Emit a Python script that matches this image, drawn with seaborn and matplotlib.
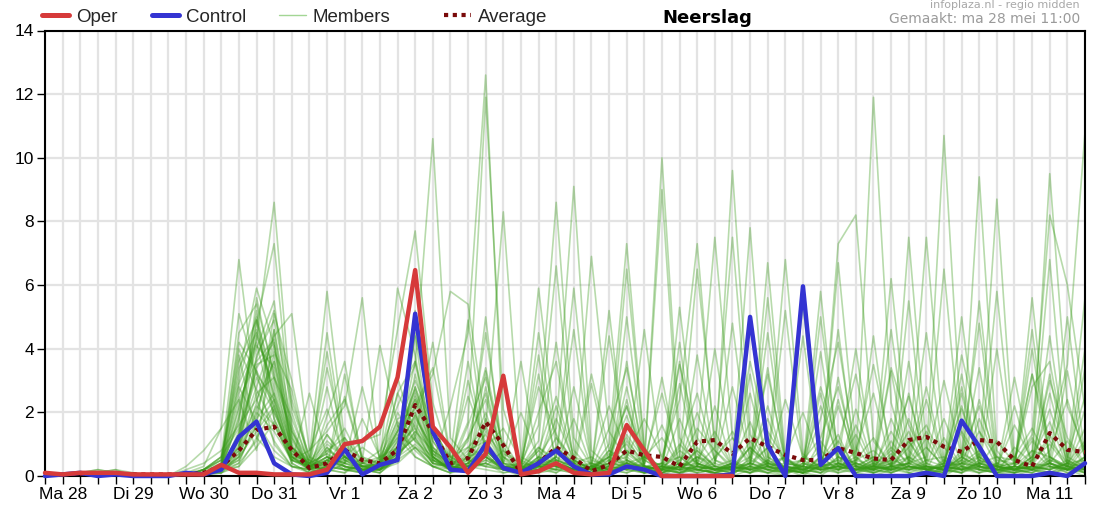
import numpy as np
import pandas as pd
import matplotlib
matplotlib.use("Agg")
import matplotlib.pyplot as plt
import seaborn as sns
from matplotlib.lines import Line2D

# ---------------- data ----------------
# time axis: hours since Ma 28 00:00, every 6 hours
hours = list(range(6, 361, 6))  # 60 points
day_labels = ["Ma 28", "Di 29", "Wo 30", "Do 31", "Vr 1", "Za 2", "Zo 3",
              "Ma 4", "Di 5", "Wo 6", "Do 7", "Vr 8", "Za 9", "Zo 10", "Ma 11"]
y_ticks = [0, 2, 4, 6, 8, 10, 12, 14]
legend_labels = ["Oper", "Control", "Members", "Average"]

oper = [0.1, 0.05, 0.1, 0.1, 0.1, 0.05, 0.05, 0.05, 0.05, 0.05, 0.35,
        0.1, 0.1, 0.05, 0.05, 0.05, 0.2, 1.0, 1.1, 1.55, 3.1, 6.47, 1.55,
        0.9, 0.1, 0.7, 3.15, 0.05, 0.15, 0.4, 0.1, 0.05, 0.1, 1.6, 0.8,
        0.0, 0.0, 0.0, 0.0, 0.0]

control = [0.0, 0.05, 0.1, 0.0, 0.05, 0.0, 0.0, 0.0, 0.1, 0.05, 0.2,
           1.23, 1.71, 0.4, 0.05, 0.0, 0.1, 0.84, 0.05, 0.35, 0.5, 5.1, 1.4,
           0.2, 0.15, 1.0, 0.25, 0.1, 0.4, 0.8, 0.3, 0.05, 0.05, 0.3, 0.2,
           0.0, 0.0, 0.0, 0.0, 0.05, 5.0, 0.97, 0.0, 5.96, 0.35, 0.88, 0.0,
           0.0, 0.0, 0.0, 0.1, 0.0, 1.74, 0.92, 0.0, 0.0, 0.0, 0.1, 0.0, 0.4]

average = [0.05, 0.05, 0.05, 0.05, 0.05, 0.05, 0.05, 0.05, 0.05, 0.1, 0.3,
           0.8, 1.45, 1.55, 0.82, 0.25, 0.4, 0.82, 0.5, 0.4, 0.82, 2.23, 1.39,
           0.4, 0.56, 1.7, 0.97, 0.1, 0.4, 0.9, 0.56, 0.15, 0.35, 0.8, 0.65,
           0.6, 0.3, 1.08, 1.13, 0.7, 1.19, 0.92, 0.66, 0.5, 0.5, 0.88, 0.72,
           0.55, 0.5, 1.13, 1.23, 0.92, 0.76, 1.13, 1.08, 0.5, 0.3, 1.35, 0.82, 0.75]

members = [
 [0,0,0,0.1,0.1,0,0,0,0,0.1,0.3, 2.1,4.3,8.6,2.0, 0.3,0.8,1.2,0.4, 0.2,0.9,2.5,1.1, 0.3,0.2,1.4,0.6, 0.1,0.4,1.8,0.5, 0.2,0.6,2.2,0.3, 0.1,0.4,1.5,0.8, 0.2,0.9,0.3,0.1, 0.5,1.2,2.8,0.6, 0.1,0.3,0.9,1.6, 0.4,2.1,0.6,0.2, 0.1,0.5,3.0,1.2, 0.4],
 [0,0,0,0.1,0.2,0.1,0,0,0.1,0.3,1.5, 6.8,2.4,1.1,0.3, 0.1,0.5,0.9,0.2, 0.4,1.6,0.8,0.3, 0.1,0.6,0.9,0.2, 0,0.3,0.6,0.1, 0,0.2,1.1,0.4, 10.0,1.2,0.3,0.1, 0,0.6,1.8,0.3, 0.1,0,0.4,1.3, 0.2,0.7,0.1,0, 0.3,1.4,0.5,0.1, 0,0.2,0.8,2.4, 0.6],
 [0,0,0,0.1,0.1,0,0,0,0,0.2,0.6, 3.2,5.9,4.1,0.9, 0.2,1.3,0.6,0.4, 0.8,2.2,3.5,10.6, 1.2,0.5,0.3,0.8, 0.1,0.2,0.4,0.2, 0.1,0.8,0.5,0.2, 0,0.3,0.1,0.6, 1.2,0.3,0.1,0, 0.4,2.2,0.6,0.1, 0,0.2,1.1,0.3, 0.2,0.1,1.8,0.4, 0.6,0.2,0,0.3, 1.5],
 [0,0,0,0.1,0.1,0.1,0,0,0,0.1,0.2, 1.8,4.8,7.3,1.5, 0.1,0.3,0.2,0.1, 0.3,0.7,1.2,0.4, 2.2,4.5,12.6,1.1, 0.2,0.8,0.3,0.1, 0,0.1,0.5,0.3, 0.2,1.8,0.4,0, 0.1,0.3,0.9,0.2, 0,0.4,0.2,0.8, 2.6,0.3,0.1,0, 0.2,0.6,0.3,1.1, 0.4,3.2,0.6,0.2, 0],
 [0,0,0.1,0.2,0.1,0,0,0,0,0.1,0.4, 0.9,3.7,5.2,2.4, 0.6,5.8,1.1,0.3, 0.2,0.5,0.9,0.3, 0.4,1.7,11.9,2.1, 0.3,0.2,0.1,0.4, 0.6,0.2,0.1,0.3, 0.1,0,0.5,1.4, 0.3,0.1,0.4,0.6, 0.1,1.1,0.3,0.2, 0.5,0.1,0.3,1.2, 0.1,0.4,0.2,0.1, 0.9,0.4,1.3,0.2, 3.4],
 [0,0,0,0.1,0,0,0,0,0.1,0.2,0.3, 1.2,2.8,4.4,5.1, 0.8,1.4,2.2,5.6, 0.3,1.1,2.8,1.4, 0.6,0.9,1.5,8.3, 0.6,0.3,0.9,0.4, 0.1,0.5,0.2,0.1, 0.3,0.6,0.2,0.1, 0,0.2,1.4,0.5, 0.2,0.1,0.6,0.3, 0.1,1.8,0.5,0.2, 1.2,0.3,0.1,0.4, 0.2,0.1,0.4,1.1, 0.3],
 [0.1,0,0,0,0.1,0,0,0,0,0,0.2, 0.6,2.1,3.6,1.2, 0.2,0.4,0.6,1.1, 1.3,4.6,7.7,2.3, 0.5,0.2,0.6,0.3, 0.4,1.6,8.6,1.2, 0.3,0.1,0.4,0.6, 1.2,0.3,0.1,0.2, 0.1,0.4,0.2,0, 0.6,0.3,0.1,2.1, 0.3,0.5,1.4,0.2, 0,0.3,0.7,0.2, 0.1,0.8,0.3,0.2, 0.5],
 [0,0,0,0.1,0.1,0,0,0,0,0.1,0.1, 0.4,1.8,2.6,0.9, 0.5,0.2,0.1,0.6, 0.4,1.4,2.1,3.2, 5.8,5.4,1.6,0.4, 0.2,0.6,1.5,9.1, 0.8,0.3,0.2,0.1, 0.4,0.1,0.9,0.3, 0.2,1.1,0.3,0.1, 0.3,0.1,0.2,0.4, 0.2,0.6,0.2,0.1, 0.5,0.2,2.4,0.3, 0.1,0.2,0.4,0.2, 0.9],
 [0,0,0,0,0.1,0,0,0,0,0.1,0.2, 0.3,1.2,2.1,0.6, 0.2,0.9,0.4,0.3, 0.2,0.6,1.8,0.9, 0.3,0.8,1.1,0.2, 0.4,5.9,1.2,0.3, 6.9,1.4,0.5,0.2, 0.3,0.1,0.2,0.1, 0.2,0.1,0.5,0.2, 0.1,0.6,0.2,0.4, 11.9,2.3,0.4,0.1, 0.2,0.1,0.5,0.3, 0.4,1.2,0.3,0.1, 0.2],
 [0,0,0,0.1,0.1,0,0,0,0,0.1,0.2, 0.8,2.6,3.1,1.8, 0.4,0.7,0.3,0.2, 0.1,0.6,1.3,0.5, 0.2,1.2,2.4,0.6, 0.3,1.1,6.6,0.8, 0.2,1.0,7.3,0.9, 0.1,0.3,0.6,0.2, 0.4,0.2,0.1,0.3, 0.2,0.5,1.3,0.1, 0.3,0.2,0.4,0.6, 10.7,1.3,0.2,0.1, 0.2,0.6,1.7,0.3, 0.1],
 [0,0,0,0,0.1,0.1,0,0,0,0.2,0.6, 1.5,3.3,2.2,0.4, 0.1,0.3,0.8,0.4, 0.6,1.7,1.1,0.6, 0.2,0.4,0.9,1.5, 0.5,0.2,0.6,5.9, 0.5,0.3,0.2,0.4, 9.0,0.6,0.2,0.1, 0.3,0.9,0.4,0.2, 0.1,0.3,0.2,0.5, 0.8,0.3,1.1,0.2, 0.3,0.5,9.4,0.8, 0.1,0.3,0.2,0.4, 1.1],
 [0,0,0,0.1,0.1,0,0,0,0.1,0.1,0.3, 2.6,4.1,3.4,1.1, 0.3,0.5,0.2,0.1, 0.2,0.8,1.6,0.7, 0.4,0.6,0.8,0.3, 0.1,0.3,0.2,0.1, 0.3,0.4,0.6,1.8, 0.6,2.4,7.3,0.8, 0.3,0.1,0.2,0.6, 0.2,0.4,0.1,0.3, 0.6,0.2,0.4,1.4, 0.3,0.2,0.6,8.7, 0.5,0.2,0.1,0.3, 0.2],
 [0,0,0,0.1,0,0,0,0,0,0.1,0.2, 0.5,1.6,2.4,0.7, 0.2,0.1,0.4,0.9, 0.5,1.2,0.6,0.3, 0.1,0.3,0.6,0.2, 0.1,0.4,0.3,0.2, 0.4,0.2,0.8,0.3, 0.2,0.5,1.1,7.5, 1.2,0.4,0.2,0.1, 0.3,0.2,0.6,0.4, 0.2,1.1,0.3,0.2, 0.4,0.2,0.1,0.3, 0.2,0.6,9.5,2.2, 0.8],
 [0,0,0,0.1,0.2,0,0,0,0,0.1,0.1, 0.7,2.3,4.6,1.6, 0.2,0.6,0.2,0.3, 0.4,0.9,1.9,0.8, 0.2,0.5,1.1,0.4, 0.1,0.2,0.5,0.3, 0.2,0.7,0.4,0.1, 0.1,0.3,0.2,0.4, 9.6,1.3,0.4,0.2, 0.1,0.3,0.5,0.2, 0.4,0.1,0.6,0.3, 0.2,0.8,0.3,0.1, 0.4,1.3,8.2,6.0, 2.1],
 [0,0,0,0,0.1,0,0,0,0,0.1,0.3, 1.1,4.4,2.8,0.8, 0.4,1.1,0.6,0.2, 0.3,1.4,2.7,1.2, 0.6,0.3,0.4,0.2, 0.2,0.5,0.9,0.4, 0.3,0.1,1.3,0.5, 0.2,0.1,0.3,0.9, 7.5,0.8,0.3,0.1, 0.2,0.4,0.9,0.3, 0.1,0.3,0.2,0.5, 0.6,0.2,0.4,0.3, 0.2,0.3,1.2,3.5, 10.8],
 [0,0,0,0.1,0.1,0,0,0,0,0.2,0.5, 3.6,4.9,1.8,0.5, 0.2,0.8,0.5,0.3, 0.2,0.7,1.4,0.5, 0.3,0.9,0.6,0.2, 0.1,0.4,0.3,0.2, 0.3,0.5,0.4,0.2, 0.1,0.4,0.2,0.3, 0.5,7.8,0.6,0.2, 0.4,0.3,7.3,8.2, 1.1,0.3,0.2,0.4, 0.1,0.5,0.2,0.3, 0.4,0.2,0.6,0.3, 0.1],
 [0,0,0,0.1,0,0,0,0,0,0.1,0.2, 0.4,1.1,3.9,2.7, 0.3,0.2,0.1,0.4, 0.3,0.9,2.2,0.6, 0.2,1.6,3.1,0.9, 0.2,0.6,0.4,0.2, 0.1,0.3,0.5,0.2, 0.3,0.2,0.6,0.4, 0.2,0.5,6.7,0.6, 0.1,0.3,0.4,0.2, 0.5,0.2,7.5,0.9, 0.3,0.2,0.4,0.6, 0.2,0.4,0.3,0.2, 0.6],
 [0,0,0,0.1,0.1,0,0,0,0,0,0.1, 0.6,2.0,1.4,0.5, 0.8,2.1,0.6,0.2, 0.1,0.6,1.0,0.4, 0.3,0.4,0.8,0.3, 0.2,0.3,0.1,0.5, 0.2,0.6,0.3,0.1, 0.2,0.8,0.4,0.2, 0.3,0.2,0.4,6.8, 0.7,0.2,0.3,0.1, 0.2,0.4,0.6,7.5, 0.9,0.3,0.2,0.4, 0.2,0.1,0.5,0.3, 0.2],
 [0,0,0,0.1,0.1,0,0,0,0,0.1,0.3, 4.5,5.4,3.2,0.8, 0.2,0.4,1.2,0.5, 0.4,5.9,3.8,0.6, 0.2,0.5,0.3,0.2, 0.1,0.2,0.6,0.3, 0.2,0.4,6.5,0.8, 0.1,0.3,0.2,0.1, 0.4,5.0,0.6,0.3, 0.2,0.1,0.4,0.3, 0.3,6.2,0.8,0.2, 0.1,0.4,0.3,0.2, 0.3,0.2,0.4,0.1, 0.3],
 [0,0,0,0.1,0.1,0,0,0,0,0.1,0.2, 2.2,4.0,5.5,1.2, 0.3,0.6,0.4,0.2, 0.2,0.8,4.5,1.6, 0.4,0.3,0.6,0.3, 0.2,4.5,0.9,0.3, 0.1,0.3,5.0,0.6, 0.2,5.3,0.7,0.2, 0.1,0.3,4.5,0.4, 0.3,0.2,6.7,0.9, 0.2,0.5,0.3,0.1, 0.4,5.0,0.6,0.3, 0.2,0.6,6.8,0.5, 0.2],
 [0,0,0,0,0.1,0,0,0,0,0.1,0.4, 3.4,4.5,2.6,0.7, 0.4,1.3,0.5,0.2, 0.3,1.1,2.2,3.4, 0.6,4.9,0.8,0.3, 0.2,0.3,0.4,0.2, 0.3,0.2,0.4,0.3, 0.4,0.6,6.5,1.1, 0.3,0.2,0.5,0.2, 0.1,5.0,0.6,0.4, 0.2,0.3,5.5,0.4, 6.5,0.6,0.2,0.1, 0.3,4.0,0.6,0.2, 0.4],
 [0,0,0,0.1,0,0,0,0,0,0.2,0.6, 5.1,3.2,2.4,0.6, 0.2,4.5,0.8,0.3, 0.4,1.3,0.9,0.5, 0.2,0.6,4.5,0.7, 0.4,0.3,1.2,0.5, 0.2,0.8,0.3,0.1, 0.2,0.4,0.3,4.0, 0.5,0.2,0.4,0.3, 0.2,0.3,0.5,4.0, 0.3,0.2,0.4,4.5, 0.5,0.3,5.5,0.6, 0.2,0.3,0.4,5.0, 0.6],
 [0,0,0,0.1,0.1,0,0,0,0,0.1,0.2, 0.9,3.8,4.9,2.2, 0.6,0.3,0.2,0.1, 0.2,0.5,3.2,1.1, 0.3,0.2,0.5,0.3, 0.1,0.6,0.3,0.2, 0.1,0.2,0.8,0.3, 0.2,0.1,0.4,0.2, 0.3,0.6,0.2,0.1, 0.4,0.2,0.3,0.6, 0.2,0.4,0.3,0.2, 0.1,0.3,0.2,4.0, 0.3,0.2,0.5,0.3, 0.2],
 [0,0,0,0.1,0.1,0,0,0,0.2,0.4,0.8, 1.6,2.4,3.6,0.9, 0.3,2.8,0.4,0.2, 0.3,0.6,1.4,0.8, 0.4,1.1,2.6,0.5, 0.2,0.9,0.5,0.3, 0.4,0.2,1.6,0.5, 0.2,0.3,0.8,0.3, 0.2,0.4,2.2,0.3, 0.5,0.2,0.3,1.6, 0.3,0.8,0.2,0.3, 1.8,0.4,0.6,0.2, 0.3,1.1,0.4,0.2, 0.3],
 [0,0,0,0,0.1,0,0,0,0,0.1,0.1, 0.3,0.9,1.7,0.4, 0.1,0.3,2.5,0.6, 0.2,0.4,0.9,0.3, 0.1,0.2,0.7,0.2, 0.3,0.1,0.2,2.8, 0.4,0.2,0.1,0.3, 0.2,0.1,0.2,0.1, 0.3,2.6,0.4,0.2, 0.1,0.6,0.2,0.1, 0.4,0.2,0.6,0.2, 0.3,0.1,0.4,0.2, 2.2,0.3,0.1,0.4, 0.1],
 [0,0,0,0.1,0,0,0,0,0,0.1,0.3, 2.8,1.7,0.8,0.3, 0.2,0.5,0.3,0.1, 0.6,3.1,1.2,0.4, 0.3,0.2,1.8,0.6, 0.2,0.4,2.2,0.4, 0.1,0.3,0.2,0.6, 0.3,2.9,0.4,0.2, 0.2,0.1,0.3,0.2, 0.1,0.3,2.4,0.3, 0.2,0.1,0.3,0.2, 0.4,2.6,0.3,0.1, 0.1,0.3,0.2,0.5, 0.2],
 [0,0,0,0.1,0.1,0,0,0,0,0,0.2, 1.4,3.1,2.0,0.8, 0.3,0.2,0.6,0.3, 0.2,0.9,2.8,0.9, 0.5,0.3,0.2,0.1, 0.2,0.3,0.5,0.2, 0.1,0.4,2.8,0.3, 0.2,0.1,0.3,0.2, 0.4,0.2,0.1,0.3, 0.2,2.6,0.4,0.2, 0.1,0.3,0.4,0.2, 0.2,0.6,0.3,0.2, 0.3,0.2,2.6,0.4, 0.2],
 [0,0,0,0,0.1,0,0,0,0,0.1,0.2, 0.6,1.4,2.2,0.6, 0.2,0.9,0.3,0.2, 0.1,0.5,1.7,0.6, 0.2,0.4,0.3,0.2, 0.1,0.2,0.3,0.1, 0.2,0.1,0.4,0.2, 0.3,0.2,0.1,0.2, 0.1,0.3,0.2,0.1, 0.2,0.1,0.4,0.2, 0.3,0.2,0.1,0.3, 0.2,0.1,0.3,0.2, 0.1,0.2,0.4,0.2, 0.3],
 [0,0,0,0.1,0.1,0,0,0,0,0.1,0.2, 1.0,2.2,1.6,0.5, 0.3,0.4,0.2,0.2, 0.3,0.7,2.0,0.7, 0.2,0.3,0.4,0.1, 0.2,0.1,0.4,0.2, 0.1,0.2,0.3,0.1, 0.2,0.3,0.2,0.1, 0.2,0.1,0.3,0.2, 0.1,0.2,0.3,0.2, 0.1,0.2,0.2,0.3, 0.2,0.3,0.1,0.2, 0.2,0.1,0.3,0.2, 0.1],
 [0,0,0,0,0,0,0,0,0,0.1,0.2, 0.8,1.9,4.1,1.3, 0.2,0.3,0.5,0.2, 0.2,1.0,1.5,0.6, 0.3,0.2,0.6,0.2, 0.1,0.3,0.2,0.1, 0.3,0.1,0.3,0.2, 0.1,0.2,0.3,0.2, 0.2,0.3,0.1,0.2, 0.3,0.2,0.1,0.2, 0.2,0.1,0.3,0.2, 0.1,0.2,0.2,0.1, 0.3,0.2,0.1,0.2, 0.2],
 [0,0,0,0.1,0.1,0,0,0,0,0.2,0.5, 3.0,5.0,2.0,0.6, 0.5,3.4,1.0,0.3, 0.3,1.5,3.0,1.6, 0.4,2.5,1.0,0.3, 0.3,2.0,3.6,0.5, 0.2,1.5,3.4,0.6, 0.3,3.5,1.2,0.4, 2.8,0.6,3.2,0.5, 0.3,1.8,4.2,0.7, 3.5,0.8,2.5,0.4, 3.0,0.6,2.2,0.5, 0.4,2.8,3.6,0.6, 2.5],
 [0,0,0,0.1,0.1,0,0,0,0,0.1,0.3, 2.4,3.6,4.3,1.4, 0.3,1.6,2.4,0.5, 0.4,2.6,3.6,1.3, 0.5,1.2,3.4,0.8, 0.4,2.8,1.3,0.4, 3.2,0.8,2.2,0.5, 2.6,0.4,2.0,0.5, 0.3,3.6,1.2,0.4, 0.5,2.8,1.0,3.2, 0.4,3.4,1.6,0.5, 0.3,3.8,1.4,0.6, 0.5,3.2,1.1,0.4, 4.0],
 [0,0,0,0.1,0.1,0,0,0,0,0.1,0.2, 1.3,4.9,3.0,0.9, 0.4,0.7,1.5,0.4, 0.5,2.0,1.1,0.4, 0.3,3.0,0.8,0.3, 0.2,0.8,2.5,0.6, 0.4,2.2,0.7,0.3, 0.2,0.9,2.6,0.5, 1.4,0.5,0.3,2.4, 0.6,0.3,2.2,0.5, 0.3,1.4,0.5,2.8, 0.4,2.2,0.5,0.3, 1.6,0.5,2.1,0.4, 0.5],
 [0,0,0,0.1,0.1,0,0,0,0,0.2,0.4, 4.0,2.7,1.6,0.5, 0.3,0.6,0.4,1.8, 0.6,0.9,2.4,0.7, 0.3,0.6,1.5,0.4, 2.0,0.5,0.3,1.8, 0.3,0.6,1.9,0.4, 1.6,0.3,0.5,0.2, 0.4,1.7,0.3,0.6, 2.0,0.4,0.3,0.5, 1.2,0.3,1.8,0.4, 0.2,0.5,1.4,0.3, 0.6,1.5,0.4,0.3, 1.0],
 [0,0,0.1,0.2,0.1,0,0,0,0,0.1,0.2, 0.7,3.5,3.8,1.0, 0.2,0.5,0.3,0.2, 0.3,1.8,2.0,0.5, 0.2,0.4,0.9,0.3, 0.2,0.5,0.8,0.3, 0.2,0.4,1.2,0.3, 0.2,1.0,0.4,0.2, 0.3,0.4,0.9,0.2, 0.3,0.8,0.3,0.2, 0.3,0.9,0.4,0.3, 0.2,0.7,0.4,0.2, 0.3,0.8,0.6,0.3, 0.4],
 [0,0,0,0.1,0.1,0,0,0,0,0.1,0.2, 1.9,4.6,2.5,0.6, 0.3,1.0,0.6,0.3, 0.4,1.2,2.6,0.8, 0.3,0.7,1.3,0.4, 0.3,0.9,0.4,0.2, 0.3,0.6,1.0,0.3, 0.4,0.2,0.8,0.3, 0.2,0.9,0.4,0.3, 0.2,0.4,1.1,0.3, 0.6,0.3,0.4,0.9, 0.3,0.4,0.8,0.3, 0.2,0.5,1.0,0.3, 0.6],
 [0,0,0,0.1,0.1,0,0,0,0,0.1,0.2, 3.8,1.2,0.6,0.3, 0.2,1.9,3.6,0.4, 0.3,0.8,1.9,0.6, 0.2,3.6,0.7,0.2, 0.3,0.5,4.2,0.4, 0.2,4.4,0.6,0.2, 0.3,0.2,3.8,0.5, 0.2,0.4,0.3,5.2, 0.4,0.2,3.1,0.3, 0.2,4.6,0.5,0.2, 0.3,0.4,3.4,0.3, 0.2,5.6,0.4,0.2, 0.3],
 [0,0,0,0.1,0,0,0,0,0,0.1,0.3, 1.7,5.2,2.3,0.4, 2.6,0.6,0.3,0.2, 0.2,0.5,5.2,0.9, 0.3,0.2,2.8,0.4, 3.6,0.3,0.2,0.6, 0.2,0.3,0.4,4.6, 0.3,0.2,0.6,0.3, 4.8,0.4,0.2,0.3, 5.4,0.3,0.2,0.4, 0.3,0.2,3.6,0.2, 0.3,2.8,0.4,0.2, 0.2,0.3,4.4,0.6, 0.3],
 [0,0,0,0.1,0.1,0,0,0,0,0.2,0.5, 4.2,3.3,1.0,0.3, 0.2,0.3,3.2,0.5, 4.1,1.6,0.6,0.3, 0.2,0.4,5.0,0.3, 0.2,0.3,0.4,0.2, 2.9,0.4,0.3,0.2, 0.4,3.6,0.3,0.2, 0.3,0.2,5.6,0.4, 0.3,3.9,0.3,0.2, 0.2,0.3,0.4,2.4, 0.3,0.2,0.3,0.2, 3.1,0.3,0.2,0.4, 5.6],
 [0,0,0,0.1,0,0,0,0,0.3,0.8,1.5, 2.4,0.8,4.6,0.9, 0.3,0.2,0.6,0.3, 0.2,0.6,4.4,0.5, 0.3,0.2,0.4,3.1, 0.2,0.3,0.2,0.3, 0.2,5.2,0.4,0.2, 0.3,0.2,0.2,0.3, 0.2,0.4,3.4,0.3, 4.4,0.3,0.2,0.3, 0.2,0.3,2.6,0.3, 0.2,0.4,0.3,5.8, 0.3,0.2,0.3,0.2, 0.6],
 [0,0,0,0.1,0.1,0,0,0,0,0.1,0.2, 0.9,5.6,3.1,1.4, 0.5,3.9,0.6,0.3, 0.3,2.6,1.5,0.4, 0.2,0.3,0.5,0.2, 0.3,3.2,0.4,0.2, 0.3,0.2,0.2,0.3, 3.1,0.2,0.3,0.2, 0.4,0.3,0.2,0.3, 0.2,0.6,4.6,0.3, 0.2,3.3,0.3,0.2, 0.3,0.2,0.4,0.3, 0.2,0.4,3.2,0.3, 2.1],
 [0,0,0,0.1,0.1,0,0,0,0,0.1,0.2, 0.5,1.6,5.1,3.0, 0.4,0.3,0.2,0.3, 0.3,0.9,3.6,0.6, 0.2,0.6,2.0,0.4, 0.3,0.2,0.6,4.6, 0.3,0.2,0.4,0.3, 0.2,0.4,0.3,2.2, 0.3,3.2,0.3,0.2, 0.2,0.3,0.4,0.2, 4.4,0.3,0.2,0.3, 0.2,0.6,4.8,0.3, 0.2,0.3,0.2,0.4, 0.3],
 [0,0,0,0.1,0,0,0,0,0,0.1,0.2, 1.3,3.4,4.2,0.6, 0.3,0.6,0.4,2.8, 0.5,1.4,2.4,0.8, 0.4,0.3,3.3,0.3, 0.2,3.8,0.3,0.2, 0.3,0.2,3.6,0.3, 0.2,0.3,0.4,0.2, 0.3,0.2,0.3,0.2, 0.3,5.8,0.4,0.2, 0.3,0.2,0.3,0.3, 0.2,3.2,0.3,0.2, 0.3,4.6,0.4,0.2, 0.3],
 [0,0,0,0.1,0.1,0,0,0,0,0.1,0.3, 2.9,4.2,1.8,0.5, 0.3,0.5,0.3,0.2, 0.2,0.7,1.2,4.2, 0.6,0.3,0.4,0.2, 0.3,0.4,0.5,0.3, 0.2,0.3,2.4,0.3, 0.2,4.2,0.3,0.2, 0.3,0.2,0.3,0.4, 0.3,0.2,0.3,0.2, 0.3,0.2,0.3,0.2, 0.3,0.2,0.3,0.3, 0.2,0.3,0.2,3.3, 0.5],
]

# ---------------- tables ----------------
mem_df = pd.DataFrame(
    [(m, h, v) for m, row in enumerate(members) for h, v in zip(hours, row)],
    columns=["member", "hour", "value"])
oper_df = pd.DataFrame({"hour": hours[:len(oper)], "value": oper})
ctrl_df = pd.DataFrame({"hour": hours, "value": control})
avg_df = pd.DataFrame({"hour": hours, "value": average})

# ---------------- style ----------------
sns.set_theme(style="white")
plt.rcParams["font.family"] = ["Liberation Sans", "DejaVu Sans"]

C_OPER = "#d63a3a"
C_CTRL = "#3434d2"
C_MEM = "#389a18"
C_AVG = "#7a0a0a"
DOTS = (0, (1.0, 1.1))

fig = plt.figure(figsize=(10.97, 5.12), dpi=100)
ax = fig.add_axes([45 / 1097, 36 / 512, 1040 / 1097, 445.5 / 512])

# grid
ax.set_xlim(hours[0], hours[-1])
ax.set_ylim(0, 14)
ax.set_xticks(hours)
noon_labels = {12 + 24 * d: lab for d, lab in enumerate(day_labels)}
ax.set_xticklabels([noon_labels.get(h, "") for h in hours])
ax.set_yticks(y_ticks)
ax.set_yticklabels([str(t) for t in y_ticks])
ax.grid(True, color="#e3e3e3", lw=1.6, zorder=0)
ax.set_axisbelow(True)
for h in hours:
    if h % 24 == 0:
        ax.axvline(h, color="#6e6e6e", lw=1.2, zorder=0.5)

# members
sns.lineplot(data=mem_df, x="hour", y="value", units="member", estimator=None,
             color=C_MEM, alpha=0.36, lw=1.2, ax=ax, legend=False, zorder=2)
# average, control, oper
sns.lineplot(data=avg_df, x="hour", y="value", color=C_AVG, lw=3.0, ax=ax,
             legend=False, zorder=3, linestyle=DOTS)
sns.lineplot(data=ctrl_df, x="hour", y="value", color=C_CTRL, lw=3.2, ax=ax,
             legend=False, zorder=4, clip_on=False)
sns.lineplot(data=oper_df, x="hour", y="value", color=C_OPER, lw=3.2, ax=ax,
             legend=False, zorder=5, clip_on=False)

ax.set_xlabel("")
ax.set_ylabel("")
for s in ax.spines.values():
    s.set_visible(True)
    s.set_color("black")
    s.set_linewidth(1.5)
ax.tick_params(axis="both", which="major", direction="out", length=6,
               width=1.0, color="black", labelsize=12.5, labelcolor="black",
               bottom=True, left=True, pad=2)

# legend: one entry per anchored position
handles = [Line2D([], [], color=C_OPER, lw=3.6),
           Line2D([], [], color=C_CTRL, lw=3.6),
           Line2D([], [], color="#a3d694", lw=1.0),
           Line2D([], [], color=C_AVG, lw=3.0, linestyle=DOTS)]
leg_x = [42, 152, 279, 444]
for hnd, lab, xp in zip(handles, legend_labels, leg_x):
    fig.legend([hnd], [lab], loc="center left",
               bbox_to_anchor=(xp / 1097, 1 - 17 / 512), frameon=False,
               fontsize=13.5, handlelength=1.45, handletextpad=0.35,
               borderaxespad=0, borderpad=0)

fig.text(707 / 1097, 1 - 18 / 512, "Neerslag", ha="center", va="center",
         fontsize=13, fontweight="bold", family="DejaVu Sans", color="black")
fig.text(1080 / 1097, 1 - 19 / 512, "Gemaakt: ma 28 mei 11:00", ha="right",
         va="center", fontsize=10, family="DejaVu Sans", color="#9a9a9a")
fig.text(1080 / 1097, 1.0, "infoplaza.nl - regio midden", ha="right",
         va="top", fontsize=8, family="DejaVu Sans", color="#a8a8a8")

fig.savefig("out.png", dpi=100, facecolor="white")
